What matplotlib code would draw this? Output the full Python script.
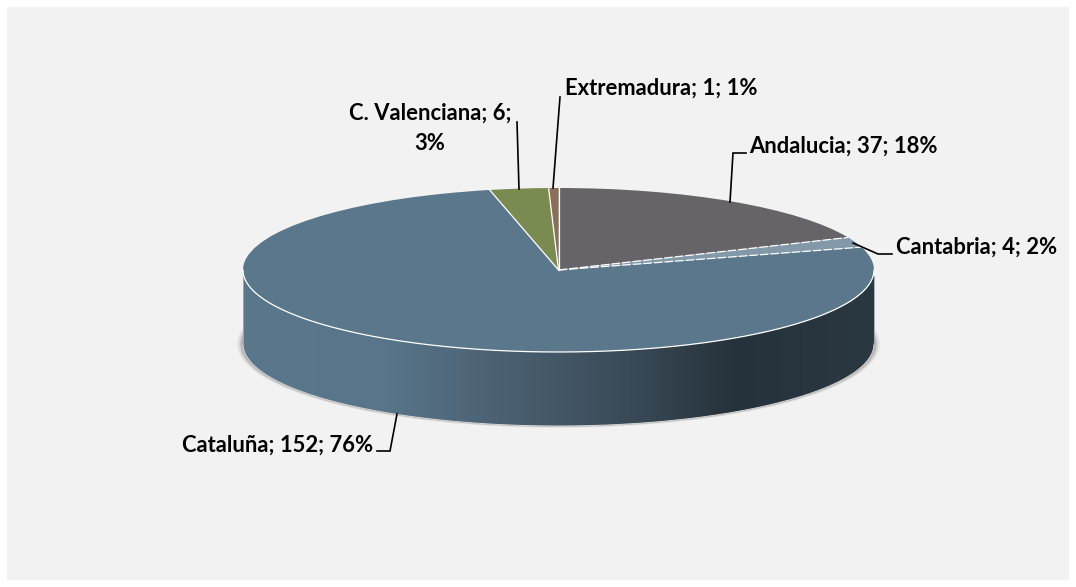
import matplotlib
matplotlib.use("Agg")
import matplotlib.pyplot as plt
import numpy as np
from matplotlib.colors import LinearSegmentedColormap
from matplotlib.patches import Ellipse, Polygon, Rectangle

# data
regions = ["Andalucia", "Cantabria", "Cataluña", "C. Valenciana", "Extremadura"]
counts = [37, 4, 152, 6, 1]
percents = [18, 2, 76, 3, 1]
colors = ["#666469", "#8399aa", "#5a778c", "#7a8b52", "#8a7058"]

W, H = 1076, 587
CX, CY = 558.5, 270   # centre of the top face, in pixels from top left
RX, RY = 315.5, 82
DEPTH = 74

plt.rcParams["font.family"] = ["Lato", "DejaVu Sans"]

fig = plt.figure(figsize=(W / 100, H / 100), dpi=100, facecolor="white")

# base axes in image pixels (y goes down)
ax = fig.add_axes([0, 0, 1, 1])
ax.set_xlim(0, W)
ax.set_ylim(H, 0)
ax.axis("off")
ax.add_patch(Rectangle((7, 7), 1062, 573, fc="#f2f2f2", ec="none", zorder=0))

# soft shadow under the wall
for grow, alpha in [(6, 0.08), (4.5, 0.12), (3, 0.2), (1.5, 0.3)]:
    ax.add_patch(Ellipse((CX, CY + DEPTH), 2 * (RX + grow), 2 * (RY + grow * 0.3),
                         fc="#6f6f6f", ec="none", alpha=alpha, zorder=1))

# side wall with a horizontal gradient
t = np.linspace(np.pi, 2 * np.pi, 300)
lower = np.column_stack([CX + RX * np.cos(t[::-1]), CY + DEPTH - RY * np.sin(t[::-1])])
upper = np.column_stack([CX + RX * np.cos(t), CY - RY * np.sin(t)])
wall = Polygon(np.vstack([upper, lower]), closed=True, transform=ax.transData, fc="none", ec="none")
ax.add_patch(wall)
stops = [(243, "#5a778c"), (385, "#58758a"), (470, "#4f6678"), (560, "#435665"),
         (650, "#364652"), (735, "#26323b"), (874, "#2a3841")]
cmap = LinearSegmentedColormap.from_list(
    "wall", [((x - 243) / (874 - 243), c) for x, c in stops])
img = ax.imshow(np.linspace(0, 1, 631)[None, :], cmap=cmap, extent=(243, 874, 430, 270),
                aspect="auto", zorder=2)
img.set_clip_path(wall)
ax.set_xlim(0, W)
ax.set_ylim(H, 0)

# thin light rims on the wall
ax.plot(lower[:, 0], lower[:, 1], color="#d8d8d8", lw=0.7, zorder=3)
ax.plot([CX - RX, CX - RX], [CY + 6, CY + DEPTH], color="#9fb0bc", lw=0.6, zorder=3)
ax.plot([CX + RX, CX + RX], [CY + 6, CY + DEPTH], color="#9aa5ac", lw=0.6, zorder=3)

# top face: a real pie in its own axes, squashed by the axes shape
pie_ax = fig.add_axes([(CX - RX) / W, 1 - (CY + RY) / H, 2 * RX / W, 2 * RY / H], zorder=3)
pie_ax.pie(counts, colors=colors, startangle=90, counterclock=False, radius=1,
           wedgeprops={"edgecolor": "none"})
pie_ax.set_xlim(-1, 1)
pie_ax.set_ylim(-1, 1)
pie_ax.set_aspect("auto")
pie_ax.patch.set_alpha(0)

# white slice edges, dashed around the thin Cantabria slice
bounds = np.cumsum([0] + counts[:-1]) / sum(counts) * 2 * np.pi
for i, b in enumerate(bounds):
    style = (0, (7, 1.5)) if i in (1, 2) else "-"
    pie_ax.plot([0, np.sin(b)], [0, np.cos(b)], color="white", lw=0.9, ls=style)
arc = np.linspace(np.pi, 2 * np.pi, 300)
pie_ax.plot(np.cos(arc), np.sin(arc), color="white", lw=0.9, clip_on=False)

# labels and leader lines go on top of everything
over = fig.add_axes([0, 0, 1, 1], zorder=5)
over.set_xlim(0, W)
over.set_ylim(H, 0)
over.axis("off")

labels = [f"{r}; {c}; {p}%" for r, c, p in zip(regions, counts, percents)]
tkw = dict(fontsize=15.8, fontweight="bold", color="black", va="center")
over.text(749, 146, labels[0], ha="left", **tkw)
over.text(896, 247, labels[1], ha="left", **tkw)
over.text(373, 445, labels[2], ha="right", **tkw)
over.text(430, 128, f"{regions[3]}; {counts[3]};\n{percents[3]}%", ha="center",
          linespacing=1.55, **tkw)
over.text(565, 88, labels[4], ha="left", **tkw)

leaders = [
    ([746, 733, 730], [153, 153, 202]),
    ([892, 878, 853], [254, 254, 243]),
    ([377, 390, 397], [451, 451, 414]),
    ([517, 519], [122, 189]),
    ([560, 553], [97, 188]),
]
for xs, ys in leaders:
    over.plot(xs, ys, color="black", lw=1.2, solid_joinstyle="miter")

fig.savefig("out.png", dpi=100, facecolor="white")
